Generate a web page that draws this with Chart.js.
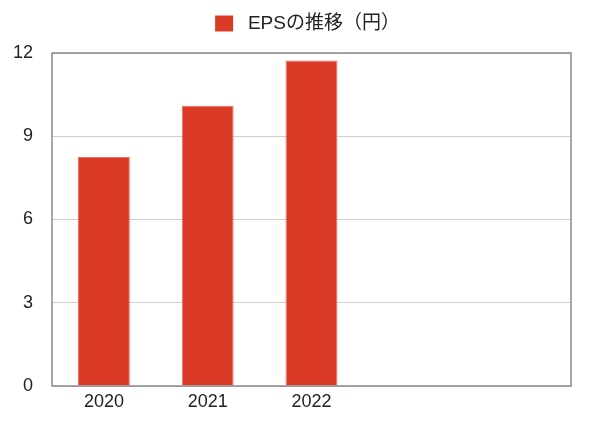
<!DOCTYPE html>
<html>
<head>
<meta charset="utf-8">
<script src="https://cdn.jsdelivr.net/npm/chart.js@4/dist/chart.umd.min.js"></script>
<style>
 html,body{margin:0;padding:0;background:#fff;}
 #wrap{width:600px;height:422px;}
</style>
</head>
<body>
<div id="wrap"><canvas id="chart"></canvas></div>
<script>
// EPS per year (yen), the last two slots are empty categories
const years=["2020","2021","2022","",""];
const eps=[8.25,10.1,11.73,null,null];
const seriesName="EPSの推移（円）";
const yTicks=[0,3,6,9,12];

const font="'Liberation Sans','Noto Sans CJK JP',sans-serif";

// fix the legend height so the plot starts where the reference does,
// and nudge it right so it sits centred over the page like the original
const legendFit={
 id:'legendFit',
 beforeLayout(chart){
  const lg=chart.legend;
  if(!lg||lg._fixed) return;
  const fit=lg.fit;
  lg.fit=function(){fit.call(this);this.height=53;};
  lg._fixed=true;
 },
 afterLayout(chart){
  const lg=chart.legend;
  if(!lg) return;
  lg.left+=22;
  lg.right+=22;
 }
};

// dark frame around the plot area
const frame={
 id:'frame',
 afterDatasetsDraw(chart){
  const {ctx,chartArea:a}=chart;
  ctx.save();
  ctx.strokeStyle='#8a8a8a';
  ctx.lineWidth=1.5;
  ctx.strokeRect(a.left,a.top,a.right-a.left,a.bottom-a.top);
  ctx.restore();
 }
};

new Chart(document.getElementById("chart"),{
 type:'bar',
 data:{
  labels:years,
  datasets:[{
   label:seriesName,
   data:eps,
   backgroundColor:'#db3b26',
   borderColor:'#e9705f',
   borderWidth:1,
   categoryPercentage:1,
   barPercentage:0.5
  }]
 },
 options:{
  responsive:true,
  maintainAspectRatio:false,
  animation:false,
  devicePixelRatio:1,
  layout:{padding:{left:0,right:29,top:0,bottom:0}},
  plugins:{
   tooltip:{enabled:false},
   legend:{
    position:'top',
    labels:{
     color:'#222',
     font:{family:font,size:19},
     boxWidth:18,
     boxHeight:16,
     padding:14,
     generateLabels(chart){
      return Chart.defaults.plugins.legend.labels.generateLabels(chart).map(l=>{l.text=' '+l.text;l.lineWidth=0;return l;});
     }
    }
   }
  },
  scales:{
   x:{
    grid:{display:false,drawTicks:false},
    border:{display:false},
    ticks:{color:'#222',font:{family:font,size:18},padding:5,maxRotation:0},
    afterFit(s){s.height=36;}
   },
   y:{
    min:0,max:12,
    afterBuildTicks(s){s.ticks=yTicks.map(v=>({value:v}));},
    grid:{color:'#cfcfcf',lineWidth:1,drawTicks:false},
    border:{display:false},
    ticks:{color:'#222',font:{family:font,size:18},padding:19},
    afterFit(s){s.width=52;}
   }
  }
 },
 plugins:[legendFit,frame]
});
</script>
</body>
</html>
